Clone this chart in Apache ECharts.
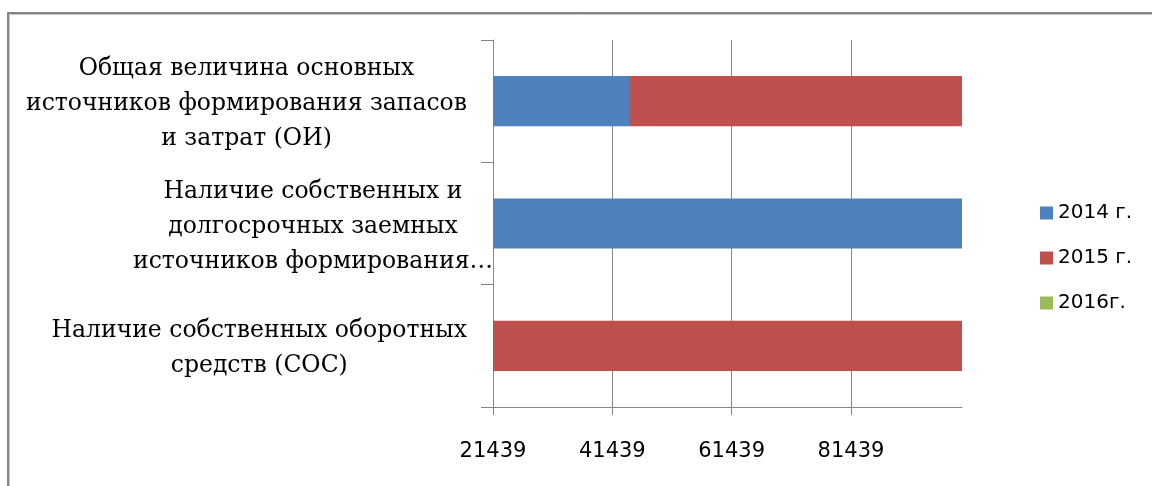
<!DOCTYPE html>
<html>
<head>
<meta charset="utf-8">
<script src="https://cdn.jsdelivr.net/npm/echarts@6/dist/echarts.min.js"></script>
<style>
  html, body { margin: 0; padding: 0; background: #ffffff; }
  #chart { width: 1152px; height: 486px; }
</style>
</head>
<body>
<div id="chart"></div>
<script>
// Categories listed bottom to top (category axis grows upward)
const categories = [
  'Наличие собственных оборотных\nсредств (СОС)',
  'Наличие собственных и\nдолгосрочных заемных\nисточников формирования…',
  'Общая величина основных\nисточников формирования запасов\nи затрат (ОИ)'
];
const seriesNames = ['2014 г.', '2015 г.', '2016г.'];
const values2014 = [null, 100044, 44233];
const values2015 = [100044, null, 55811];
const values2016 = [null, null, null];

// Value axis scale
const xMin = 21439;
const xMax = 100044;
const xStep = 20000;
const xTicks = [21439, 41439, 61439, 81439];

const colors = ['#4F81BD', '#C0504D', '#9BBB59'];
const axisGray = '#868686';

const chart = echarts.init(document.getElementById('chart'), null, { renderer: 'canvas' });

function barSeries(name, data, color) {
  return {
    name: name,
    type: 'bar',
    stack: 'total',
    data: data,
    barWidth: '41%',
    itemStyle: { color: color },
    emphasis: { disabled: true }
  };
}

const labelFont = 'DejaVu Serif';
const labelSize = 23.5;

chart.setOption({
  animation: false,
  backgroundColor: '#ffffff',
  color: colors,
  graphic: [
    {
      type: 'polyline',
      shape: { points: [[8, 486], [8, 13], [1152, 13]] },
      style: { stroke: '#848484', lineWidth: 2, fill: null },
      silent: true
    },
    {
      type: 'polyline',
      shape: { points: [[9.5, 486], [9.5, 14.5], [1152, 14.5]] },
      style: { stroke: '#c4c4c4', lineWidth: 1, fill: null },
      silent: true
    }
  ],
  grid: { left: 493, right: 190, top: 40, bottom: 79, containLabel: false },
  legend: {
    orient: 'vertical',
    left: 1035,
    top: 197,
    itemWidth: 13,
    itemHeight: 13,
    itemGap: 23,
    icon: 'rect',
    selectedMode: false,
    textStyle: {
      fontFamily: 'DejaVu Sans',
      fontSize: 20,
      lineHeight: 22,
      color: '#000000'
    },
    data: seriesNames
  },
  xAxis: {
    type: 'value',
    min: xMin,
    max: xMax,
    interval: xStep,
    axisLine: { show: true, lineStyle: { color: axisGray, width: 1 } },
    axisTick: { show: true, length: 8, customValues: xTicks, lineStyle: { color: axisGray } },
    splitLine: { show: true, showMinLine: false, lineStyle: { color: axisGray, width: 1 } },
    axisLabel: {
      customValues: xTicks,
      margin: 34,
      fontFamily: 'DejaVu Sans',
      fontSize: 21,
      color: '#000000',
      formatter: function (v) {
        return xTicks.indexOf(v) >= 0 ? String(v) : '';
      }
    }
  },
  yAxis: {
    type: 'category',
    data: categories,
    axisLine: { show: true, lineStyle: { color: axisGray, width: 1 } },
    axisTick: { show: true, length: 12, lineStyle: { color: axisGray } },
    axisLabel: {
      margin: 0,
      padding: [6, 0, 0, 0],
      formatter: function (value) {
        const lines = value.split('\n');
        const style = value.indexOf('…') >= 0 ? 'e' : 'c';
        return lines.map(function (l) { return '{' + style + '|' + l + '}'; }).join('\n');
      },
      rich: {
        c: {
          align: 'center',
          fontFamily: labelFont,
          fontSize: labelSize,
          lineHeight: 35,
          color: '#000000',
          padding: [0, 26, 0, 0]
        },
        e: {
          align: 'center',
          fontFamily: labelFont,
          fontSize: labelSize,
          lineHeight: 35,
          color: '#000000',
          padding: [0, 0, 0, 0]
        }
      }
    }
  },
  series: [
    barSeries(seriesNames[0], values2014, colors[0]),
    barSeries(seriesNames[1], values2015, colors[1]),
    barSeries(seriesNames[2], values2016, colors[2])
  ]
});
</script>
</body>
</html>
